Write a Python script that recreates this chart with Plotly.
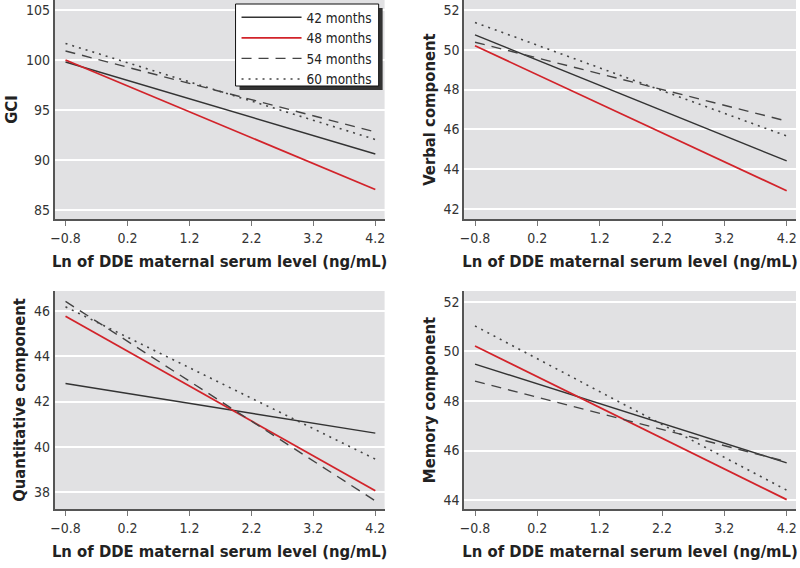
import plotly.graph_objects as go

# x range of the fitted lines (ln DDE)
x_ends = [-0.8, 4.2]
x_ticks = [-0.8, 0.2, 1.2, 2.2, 3.2, 4.2]
x_tick_text = ["\u22120.8", "0.2", "1.2", "2.2", "3.2", "4.2"]

series_names = ["42 months", "48 months", "54 months", "60 months"]

# start/end values
gci = [[99.8, 90.6], [100.0, 87.05], [100.9, 92.8], [101.65, 92.05]]
verbal = [[50.75, 44.42], [50.2, 42.92], [50.38, 46.42], [51.37, 45.67]]
quant = [[42.8, 40.6], [45.78, 38.05], [46.44, 37.6], [46.2, 39.45]]
memory = [[49.49, 45.5], [50.22, 44.02], [48.8, 45.55], [51.03, 44.4]]

panel_titles = ["GCI", "Verbal component", "Quantitative component", "Memory component"]
panel_data = [gci, verbal, quant, memory]
y_ranges = [[84.1, 106], [41.5, 52.5], [37.24, 46.9], [43.64, 52.44]]
y_ticks = [[85, 90, 95, 100, 105], [42, 44, 46, 48, 50, 52], [38, 40, 42, 44, 46], [44, 46, 48, 50, 52]]

line_styles = [
    dict(color="#333333", width=1.4, dash="solid"),
    dict(color="#d2232a", width=1.8, dash="solid"),
    dict(color="#444444", width=1.4, dash="10px,7px"),
    dict(color="#444444", width=1.6, dash="2px,5px"),
]

x_domains = [[51 / 800, 383 / 800], [463 / 800, 797 / 800]]
y_domains = [[1 - 219 / 568, 1.0], [1 - 509 / 568, 1 - 291 / 568]]

FONT = "DejaVu Sans Condensed, Liberation Sans Narrow, Roboto Condensed, Liberation Sans, sans-serif"
BG = "#e1e1e3"
W, H = 800, 568


def px_rect(x0, y0, x1, y1, **kw):
    # rectangle given in page pixels (top-left origin)
    return dict(type="rect", xref="paper", yref="paper",
                x0=x0 / W, x1=x1 / W, y0=1 - y1 / H, y1=1 - y0 / H,
                layer="above", **kw)


fig = go.Figure()
layout = {}
for p in range(4):
    row, col = divmod(p, 2)
    n = "" if p == 0 else str(p + 1)
    for s in range(4):
        fig.add_trace(
            go.Scatter(
                x=x_ends,
                y=panel_data[p][s],
                mode="lines",
                line=line_styles[s],
                name=series_names[s],
                showlegend=(p == 0),
                xaxis="x" + n,
                yaxis="y" + n,
            )
        )
    layout["xaxis" + n] = dict(
        domain=x_domains[col],
        anchor="y" + n,
        range=[-0.975, 4.35],
        tickvals=x_ticks,
        ticktext=x_tick_text,
        ticks="outside",
        ticklen=5,
        tickcolor="#777777",
        showgrid=False,
        zeroline=False,
        showline=True,
        linecolor="#555555",
        linewidth=1.5,
        tickfont=dict(family=FONT, size=14, color="#333333"),
        title=dict(
            text="<b>Ln of DDE maternal serum level (ng/mL)</b>",
            font=dict(family=FONT, size=16.5, color="#222222"),
            standoff=11,
        ),
    )
    layout["yaxis" + n] = dict(
        domain=y_domains[row],
        anchor="x" + n,
        range=y_ranges[p],
        tickvals=y_ticks[p],
        ticks="",
        showgrid=True,
        gridcolor="#ffffff",
        gridwidth=1.5,
        zeroline=False,
        showline=True,
        linecolor="#555555",
        linewidth=1.5,
        tickfont=dict(family=FONT, size=14, color="#333333"),
        title=dict(
            text="<b>" + panel_titles[p] + "</b>",
            font=dict(family=FONT, size=16.5, color="#222222"),
            standoff=4,
        ),
    )

fig.update_layout(
    **layout,
    width=W,
    height=H,
    margin=dict(l=0, r=0, t=0, b=0),
    paper_bgcolor="white",
    plot_bgcolor=BG,
    showlegend=True,
    legend=dict(
        x=234 / W,
        y=1 - 2 / H,
        xanchor="left",
        yanchor="top",
        bgcolor="rgba(0,0,0,0)",
        borderwidth=0,
        font=dict(family=FONT, size=13.5, color="#222222"),
        itemwidth=60,
        tracegroupgap=0,
    ),
    shapes=[
        # legend box with its drop shadow
        px_rect(237, 8, 381, 90, fillcolor="#333333", line=dict(width=0)),
        px_rect(233, 4, 377, 86, fillcolor="white", line=dict(color="#111111", width=1)),
    ],
)

fig.write_html(
    "out.html",
    config={"displayModeBar": False},
    post_script="document.body.style.margin='0';document.body.style.overflow='hidden';",
)
